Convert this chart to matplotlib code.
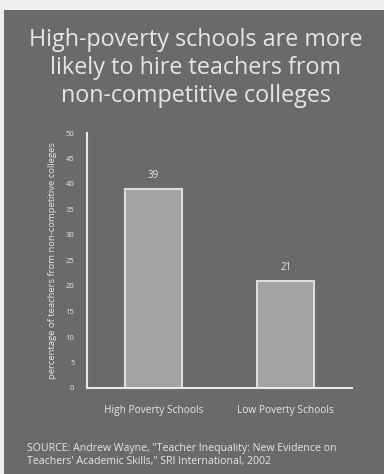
import matplotlib.pyplot as plt
from matplotlib.patches import Rectangle

categories = ['High Poverty Schools', 'Low Poverty Schools']
values = [39, 21]
yticks = list(range(0, 55, 5))

title = 'High-poverty schools are more\nlikely to hire teachers from\nnon-competitive colleges'
ylabel = 'percentage of teachers from non-competitive colleges'
source = ('SOURCE: Andrew Wayne, "Teacher Inequality: New Evidence on\n'
          'Teachers\' Academic Skills," SRI International, 2002')

BG = '#6a6a6a'
FG = '#e6e6e6'
plt.rcParams['font.family'] = ['Open Sans', 'DejaVu Sans']

fig = plt.figure(figsize=(3.84, 4.74), dpi=100)
fig.patch.set_facecolor('#efefef')
fig.patches.append(Rectangle((4 / 384, 0), 1, 1 - 10 / 474, transform=fig.transFigure,
                             facecolor=BG, edgecolor='none', zorder=-5))

ax = fig.add_axes([87 / 384, 1 - 388 / 474, 265 / 384, 255 / 474])
ax.set_facecolor('none')
ax.set_zorder(2)
x = range(len(categories))
bars = ax.bar(x, values, width=0.43, color='#a2a2a2', edgecolor='#dcdcdc', linewidth=1.5)
for b, v in zip(bars, values):
    ax.text(b.get_x() + b.get_width() / 2, v + 1.6, str(v), ha='center', va='bottom',
            color=FG, fontsize=7)

ax.set_xlim(-0.5, 1.5)
ax.set_ylim(0, 50)
ax.set_yticks(yticks)
ax.set_yticklabels([str(t) for t in yticks], fontsize=5.5, color=FG)
ax.set_xticks(list(x))
ax.set_xticklabels(categories, fontsize=7.3, color=FG)
ax.tick_params(length=0, pad=9)
ax.tick_params(axis='x', pad=12)
for s in ['top', 'right']:
    ax.spines[s].set_visible(False)
for s in ['left', 'bottom']:
    ax.spines[s].set_color('#e8e8e8')
    ax.spines[s].set_linewidth(1.5)
ax.set_ylabel(ylabel, fontsize=6.8, color=FG, labelpad=6)

fig.text(0.51, 1 - 68 / 474, title, ha='center', va='center', fontsize=16.8,
         color=FG, linespacing=1.2)
fig.text(27 / 384, 1 - 455 / 474, source, ha='left', va='center', fontsize=7.6,
         color=FG, linespacing=1.25)

fig.savefig('out.png', dpi=100, facecolor=fig.get_facecolor())
